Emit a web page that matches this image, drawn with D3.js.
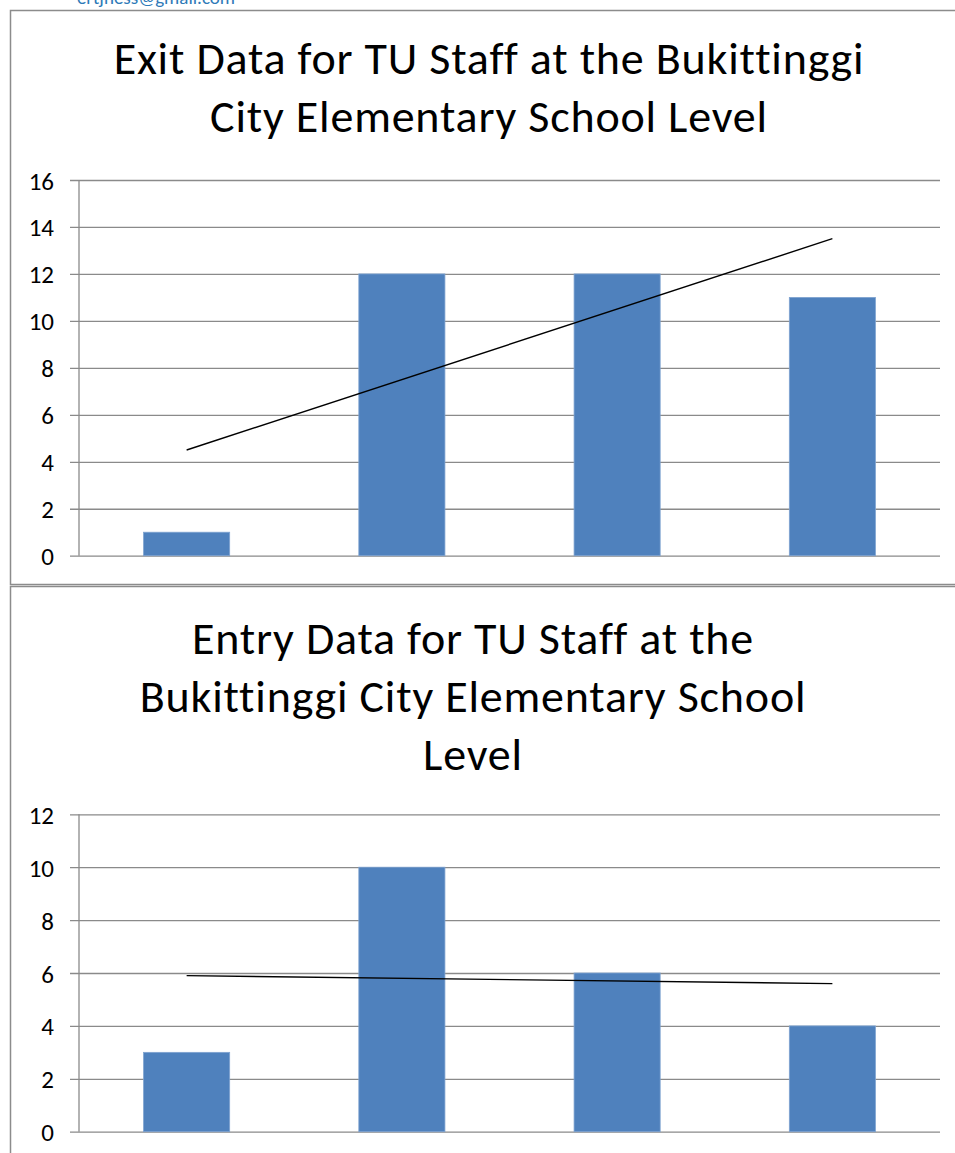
<!DOCTYPE html>
<html>
<head>
<meta charset="utf-8">
<script src="https://cdn.jsdelivr.net/npm/d3@7"></script>
<style>
  html, body { margin: 0; padding: 0; background: #fff; }
  svg { display: block; }
  text { font-family: Carlito, Calibri, Lato, "Open Sans", sans-serif; font-variant-ligatures: none; }
</style>
</head>
<body>
<svg id="page" width="955" height="1153"></svg>
<script>
// categories have no visible labels in the source
var categories = ["1", "2", "3", "4"];

var exitValues = [1, 12, 12, 11];
var exitTrend = [4.5, 13.5];     // trend line, first and last category
var exitTicks = [0, 2, 4, 6, 8, 10, 12, 14, 16];
var exitTitle = ["Exit Data for TU Staff at the Bukittinggi", "City Elementary School Level"];

var entryValues = [3, 10, 6, 4];
var entryTrend = [5.9, 5.6];
var entryTicks = [0, 2, 4, 6, 8, 10, 12];
var entryTitle = ["Entry Data for TU Staff at the", "Bukittinggi City Elementary School", "Level"];

var barColor = "#4f81bd",
    gridColor = "#8a8a8a",
    frameColor = "#8c8c8c";

var svg = d3.select("#page");

// clipped header text above the first chart
svg.append("text")
    .attr("x", 235)
    .attr("y", 4)
    .attr("text-anchor", "end")
    .attr("fill", "#2e7ab8")
    .style("font-size", "19px")
    .text("ertjness@gmail.com");

// chart frames
svg.append("rect")
    .attr("x", 10.5).attr("y", 10.5)
    .attr("width", 960).attr("height", 574)
    .attr("fill", "none").attr("stroke", frameColor).attr("stroke-width", 1.5);
svg.append("rect")
    .attr("x", 10.5).attr("y", 586.5)
    .attr("width", 960).attr("height", 600)
    .attr("fill", "none").attr("stroke", frameColor).attr("stroke-width", 1.5);

function drawChart(opt) {
    var g = svg.append("g");

    var x = d3.scaleBand()
        .domain(categories)
        .range([opt.left, opt.right])
        .paddingInner(0.6)
        .paddingOuter(0.3);

    var y = d3.scaleLinear()
        .domain([0, d3.max(opt.ticks)])
        .range([opt.bottom, opt.top]);

    // title
    g.selectAll(".title")
        .data(opt.title)
        .enter().append("text")
        .attr("class", "title")
        .attr("x", opt.titleX)
        .attr("y", function (d, i) { return opt.titleY + i * 58; })
        .attr("text-anchor", "middle")
        .attr("fill", "#000")
        .style("font-size", "46px")
        .style("letter-spacing", "0.8px")
        .text(function (d) { return d; });

    // gridlines + tick marks
    var yAxis = d3.axisLeft(y)
        .tickValues(opt.ticks)
        .tickSize(-(opt.right - opt.left))
        .tickSizeOuter(0);

    var ax = g.append("g")
        .attr("transform", "translate(" + opt.left + ",0)")
        .call(yAxis)
        .attr("font-family", null)
        .attr("font-size", 25);
    ax.select(".domain").remove();
    ax.selectAll(".tick line")
        .attr("x1", -9)
        .attr("stroke", gridColor)
        .attr("stroke-width", 1.3);
    ax.selectAll(".tick text")
        .attr("x", -25)
        .attr("dy", "0.36em")
        .attr("fill", "#000")
        .style("font-size", "25px");

    // vertical axis line
    g.append("line")
        .attr("x1", opt.left).attr("x2", opt.left)
        .attr("y1", y(d3.max(opt.ticks))).attr("y2", opt.bottom)
        .attr("stroke", gridColor).attr("stroke-width", 1.3);

    // bars
    g.selectAll(".bar")
        .data(opt.values)
        .enter().append("rect")
        .attr("class", "bar")
        .attr("x", function (d, i) { return x(categories[i]); })
        .attr("y", function (d) { return y(d); })
        .attr("width", x.bandwidth())
        .attr("height", function (d) { return y(0) - y(d); })
        .attr("fill", barColor)
        .attr("stroke", "#7fa3d0")
        .attr("stroke-width", 0.8);

    // trend line
    var first = categories[0], last = categories[categories.length - 1];
    g.append("line")
        .attr("x1", x(first) + x.bandwidth() / 2)
        .attr("y1", y(opt.trend[0]))
        .attr("x2", x(last) + x.bandwidth() / 2)
        .attr("y2", y(opt.trend[1]))
        .attr("stroke", "#000")
        .attr("stroke-width", 1.4);
}

drawChart({
    values: exitValues, trend: exitTrend, ticks: exitTicks, title: exitTitle,
    left: 79, right: 940, top: 180, bottom: 555.7,
    titleX: 489, titleY: 74
});

drawChart({
    values: entryValues, trend: entryTrend, ticks: entryTicks, title: entryTitle,
    left: 79, right: 940, top: 814.3, bottom: 1131.7,
    titleX: 473, titleY: 654
});
</script>
</body>
</html>
